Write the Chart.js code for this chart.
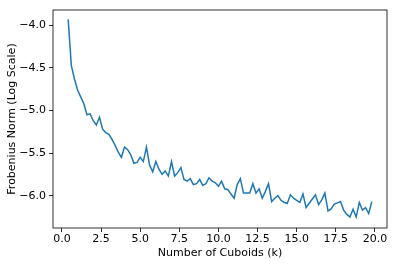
<!DOCTYPE html>
<html><head><meta charset="utf-8">
<script src="https://cdn.jsdelivr.net/npm/chart.js@4/dist/chart.umd.min.js"></script>
<style>html,body{margin:0;padding:0;background:#fff}#w{width:398px;height:266px}</style>
</head><body><div id="w"><canvas id="c" width="398" height="266"></canvas></div>
<script>
const kValues = [0.4,0.6,0.8,1.0,1.2,1.4,1.6,1.8,2.0,2.2,2.4,2.6,2.8,3.0,3.2,3.4,3.6,3.8,4.0,4.2,4.4,4.6,4.8,5.0,5.2,5.4,5.6,5.8,6.0,6.2,6.4,6.6,6.8,7.0,7.2,7.4,7.6,7.8,8.0,8.2,8.4,8.6,8.8,9.0,9.2,9.4,9.6,9.8,10.0,10.2,10.4,10.6,10.8,11.0,11.2,11.4,11.6,11.8,12.0,12.2,12.4,12.6,12.8,13.0,13.2,13.4,13.6,13.8,14.0,14.2,14.4,14.6,14.8,15.0,15.2,15.4,15.6,15.8,16.0,16.2,16.4,16.6,16.8,17.0,17.2,17.4,17.6,17.8,18.0,18.2,18.4,18.6,18.8,19.0,19.2,19.4,19.6,19.8];
const normValues = [-3.93,-4.47,-4.63,-4.76,-4.84,-4.92,-5.05,-5.04,-5.12,-5.17,-5.08,-5.22,-5.26,-5.28,-5.34,-5.41,-5.49,-5.55,-5.43,-5.46,-5.52,-5.62,-5.61,-5.55,-5.60,-5.43,-5.64,-5.72,-5.60,-5.69,-5.75,-5.71,-5.77,-5.60,-5.77,-5.73,-5.67,-5.81,-5.83,-5.80,-5.87,-5.86,-5.81,-5.88,-5.86,-5.79,-5.83,-5.85,-5.89,-5.83,-5.92,-5.93,-5.98,-6.03,-5.87,-5.80,-5.97,-5.97,-5.97,-5.86,-5.97,-5.92,-6.03,-5.95,-5.86,-6.07,-6.03,-6.00,-6.055,-6.08,-6.09,-5.99,-6.03,-6.055,-6.08,-5.98,-6.14,-6.09,-6.04,-5.99,-6.105,-6.05,-5.97,-6.18,-6.155,-6.10,-6.085,-6.07,-6.17,-6.22,-6.25,-6.16,-6.25,-6.08,-6.17,-6.14,-6.21,-6.07];
const xTicks = [0, 2.5, 5, 7.5, 10, 12.5, 15, 17.5, 20];
const yTicks = [-6.0, -5.5, -5.0, -4.5, -4.0];

const fmt = v => (v < 0 ? '\u2212' : '') + Math.abs(v).toFixed(1);
const font = {family: 'DejaVu Sans', size: 11};
const frame = {
  id: 'frame',
  afterDatasetsDraw(chart) {
    const a = chart.chartArea, ctx = chart.ctx;
    ctx.save();
    ctx.strokeStyle = '#000';
    ctx.lineWidth = 0.8;
    ctx.strokeRect(a.left, a.top, a.right - a.left, a.bottom - a.top);
    ctx.restore();
  }
};
new Chart(document.getElementById('c'), {
  type: 'line',
  data: {datasets: [{
    data: kValues.map((k, i) => ({x: k, y: normValues[i]})),
    borderColor: '#1f77b4', borderWidth: 1.5, pointRadius: 0, tension: 0, fill: false
  }]},
  options: {
    responsive: false, animation: false,
    layout: {padding: {left: 6, right: 11, top: 10, bottom: 6}},
    plugins: {legend: {display: false}, tooltip: {enabled: false}},
    scales: {
      x: {
        type: 'linear', min: -0.57, max: 20.77,
        afterBuildTicks: s => { s.ticks = xTicks.map(v => ({value: v})); },
        afterFit: s => { s.height = 32; },
        ticks: {callback: v => fmt(v), font, color: '#000', padding: 1, maxRotation: 0, autoSkip: false},
        grid: {drawOnChartArea: false, drawTicks: true, tickLength: 4, color: '#000', lineWidth: 0.8},
        border: {display: false},
        title: {display: true, text: 'Number of Cuboids (k)', font, color: '#000', padding: 0}
      },
      y: {
        type: 'linear', min: -6.38, max: -3.82,
        afterBuildTicks: s => { s.ticks = yTicks.map(v => ({value: v})); },
        afterFit: s => { s.width = 47; },
        ticks: {callback: v => fmt(v), font, color: '#000', padding: 3, autoSkip: false},
        grid: {drawOnChartArea: false, drawTicks: true, tickLength: 4, color: '#000', lineWidth: 0.8},
        border: {display: false},
        title: {display: true, text: 'Frobenius Norm (Log Scale)', font, color: '#000', padding: 0}
      }
    }
  },
  plugins: [frame]
});
</script>
</body></html>
